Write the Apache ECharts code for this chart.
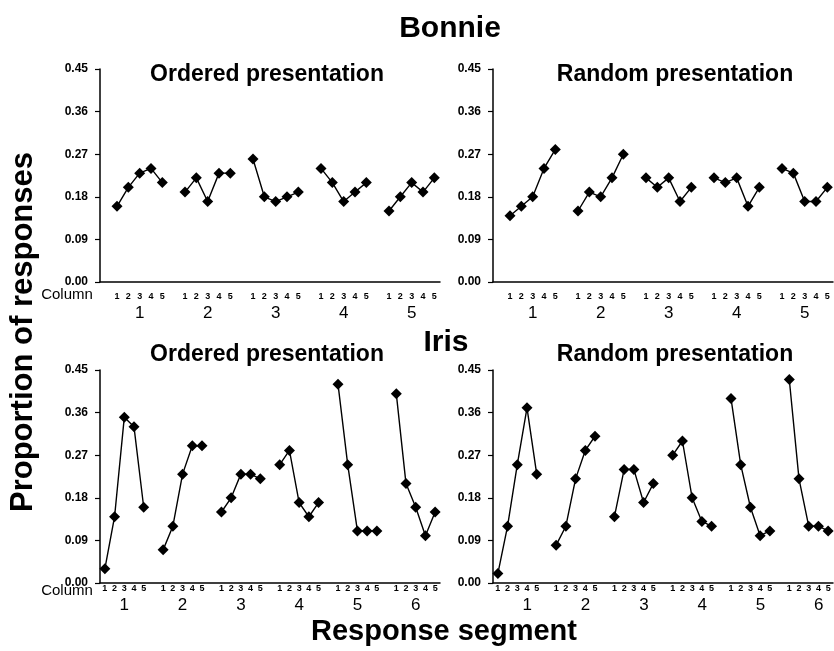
<!DOCTYPE html>
<html>
<head>
<meta charset="utf-8">
<script src="https://cdn.jsdelivr.net/npm/echarts@6/dist/echarts.min.js"></script>
<style>
  html, body { margin: 0; padding: 0; background: #fff; }
  #chart { width: 834px; height: 651px; }
</style>
</head>
<body>
<div id="chart"></div>
<script>
// proportion of responses per column (1-5), one row per response segment
var bonnieOrdered = [
  [0.16, 0.20, 0.23, 0.24, 0.21],
  [0.19, 0.22, 0.17, 0.23, 0.23],
  [0.26, 0.18, 0.17, 0.18, 0.19],
  [0.24, 0.21, 0.17, 0.19, 0.21],
  [0.15, 0.18, 0.21, 0.19, 0.22]
];
var bonnieRandom = [
  [0.14, 0.16, 0.18, 0.24, 0.28],
  [0.15, 0.19, 0.18, 0.22, 0.27],
  [0.22, 0.20, 0.22, 0.17, 0.20],
  [0.22, 0.21, 0.22, 0.16, 0.20],
  [0.24, 0.23, 0.17, 0.17, 0.20]
];
var irisOrdered = [
  [0.03, 0.14, 0.35, 0.33, 0.16],
  [0.07, 0.12, 0.23, 0.29, 0.29],
  [0.15, 0.18, 0.23, 0.23, 0.22],
  [0.25, 0.28, 0.17, 0.14, 0.17],
  [0.42, 0.25, 0.11, 0.11, 0.11],
  [0.40, 0.21, 0.16, 0.10, 0.15]
];
var irisRandom = [
  [0.02, 0.12, 0.25, 0.37, 0.23],
  [0.08, 0.12, 0.22, 0.28, 0.31],
  [0.14, 0.24, 0.24, 0.17, 0.21],
  [0.27, 0.30, 0.18, 0.13, 0.12],
  [0.39, 0.25, 0.16, 0.10, 0.11],
  [0.43, 0.22, 0.12, 0.12, 0.11]
];
var columnLabels = ['1', '2', '3', '4', '5'];
var bonnieSegments = ['1', '2', '3', '4', '5'];
var irisSegments = ['1', '2', '3', '4', '5', '6'];

var yMin = 0, yMax = 0.45, yStep = 0.09;
var font = 'Liberation Sans, Arial, sans-serif';

// lay the groups out on one category axis, a blank slot between segments
function layout(groups, segments, leadingGap) {
  var keys = [], small = [], big = [], data = [];
  function add(s, b, v) {
    keys.push('c' + keys.length);
    small.push(s); big.push(b); data.push(v);
  }
  if (leadingGap) add('', '', null);
  groups.forEach(function(g, gi) {
    if (gi > 0) add('', '', null);
    g.forEach(function(v, i) {
      add(columnLabels[i], i == 2 ? segments[gi] : '', v);
    });
  });
  return {keys: keys, small: small, big: big, data: data};
}

var panels = [
  layout(bonnieOrdered, bonnieSegments, true),
  layout(bonnieRandom, bonnieSegments, true),
  layout(irisOrdered, irisSegments, false),
  layout(irisRandom, irisSegments, false)
];

var grids = [
  {left: 100, top: 69, width: 340, height: 213},
  {left: 493, top: 69, width: 340, height: 213},
  {left: 100, top: 370, width: 340, height: 213},
  {left: 493, top: 370, width: 340, height: 213}
];

var xAxes = panels.map(function(p, i) {
  var top = i < 2;
  return {
    type: 'category',
    gridIndex: i,
    data: p.keys,
    boundaryGap: true,
    axisLine: {lineStyle: {color: '#000', width: 1.5}},
    axisTick: {interval: 0, length: 4, lineStyle: {color: '#000', width: 1.2}},
    axisLabel: {
      interval: 0,
      margin: top ? 8 : 1,
      color: '#000',
      fontFamily: font,
      formatter: function(v, idx) {
        if (!p.small[idx]) return '';
        var s = '{s|' + p.small[idx] + '}';
        if (p.big[idx]) s += '\n{g|' + p.big[idx] + '}';
        return s;
      },
      rich: {
        s: {fontSize: 9, fontWeight: 'bold', lineHeight: top ? 13 : 10, align: 'center', fontFamily: font, color: '#000'},
        g: {fontSize: 17, lineHeight: top ? 21 : 23, align: 'center', fontFamily: font, color: '#000',
            padding: i == 3 ? [0, 0, 0, 20] : 0}
      }
    }
  };
});

var yAxes = panels.map(function(p, i) {
  return {
    type: 'value',
    gridIndex: i,
    min: yMin,
    max: yMax,
    interval: yStep,
    splitLine: {show: false},
    axisLine: {show: true, lineStyle: {color: '#000', width: 1.5}},
    axisTick: {show: true, length: 5, lineStyle: {color: '#000', width: 1.2}},
    axisLabel: {
      margin: 12,
      color: '#000',
      fontSize: 12,
      fontWeight: 'bold',
      fontFamily: font,
      formatter: function(v) { return v.toFixed(2); }
    }
  };
});

var series = panels.map(function(p, i) {
  return {
    type: 'line',
    xAxisIndex: i,
    yAxisIndex: i,
    data: p.data,
    connectNulls: false,
    showAllSymbol: true,
    symbol: 'diamond',
    symbolSize: 11,
    itemStyle: {color: '#000'},
    lineStyle: {color: '#000', width: 1.4},
    animation: false
  };
});

function label(text, x, y, size, bold, extra) {
  var el = {
    type: 'text', x: x, y: y,
    style: {
      text: text, fill: '#000',
      font: (bold ? 'bold ' : '') + size + 'px ' + font,
      align: 'center', textAlign: 'center',
      verticalAlign: 'middle', textVerticalAlign: 'middle'
    }
  };
  if (extra) {
    for (var k in extra) el[k] = extra[k];
  }
  return el;
}

var graphics = [
  label('Bonnie', 450, 29, 30, true),
  label('Iris', 446, 343, 30, true),
  label('Ordered presentation', 267, 75, 23, true),
  label('Random presentation', 675, 75, 23, true),
  label('Ordered presentation', 267, 355, 23, true),
  label('Random presentation', 675, 355, 23, true),
  label('Column', 67, 295, 15, false),
  label('Column', 67, 591, 15, false),
  label('Response segment', 444, 632, 29, true),
  label('Proportion of responses', 23, 332, 31, true, {rotation: Math.PI / 2})
];

var dom = document.getElementById('chart');
var chart = echarts.init(dom, null, {renderer: 'canvas'});

var option = {
  animation: false,
  backgroundColor: '#fff',
  textStyle: {fontFamily: font},
  grid: grids.map(function(g) { g.containLabel = false; return g; }),
  xAxis: xAxes,
  yAxis: yAxes,
  series: series,
  graphic: graphics
};
chart.setOption(option);
</script>
</body>
</html>
